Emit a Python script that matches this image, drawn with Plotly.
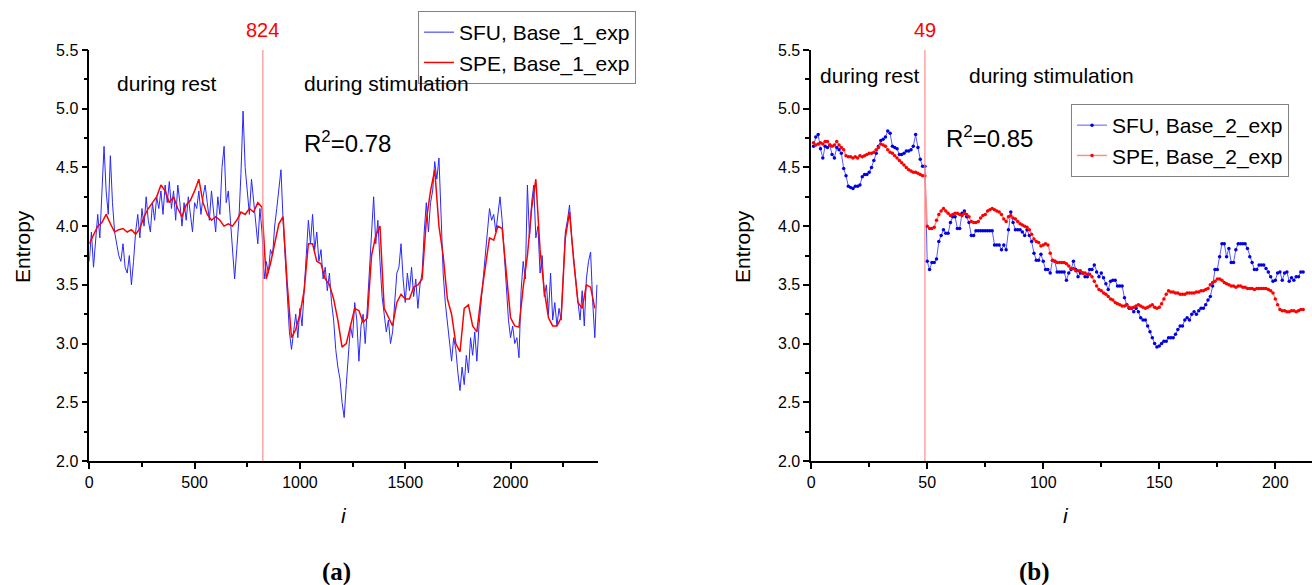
import plotly.graph_objects as go

# ---------------- data: panel (a) ----------------
A_STEP_SFU = 10
a_sfu = [3.70, 3.95, 3.65, 3.85, 4.10, 3.90, 4.30, 4.68, 4.30, 4.10,
         4.60, 4.20, 3.95, 3.85, 3.75, 3.70, 3.85, 3.65, 3.60, 3.75,
         3.50, 3.70, 3.95, 4.10, 3.90, 4.15, 4.00, 4.25, 4.05, 3.95,
         4.20, 4.05, 4.25, 4.15, 4.30, 4.10, 4.35, 4.20, 4.38, 4.15,
         4.30, 4.05, 4.35, 4.20, 4.00, 4.20, 4.05, 4.25, 4.10, 3.95,
         4.20, 4.15, 4.30, 4.10, 4.25, 4.35, 4.20, 4.05, 4.30, 4.15,
         3.95, 4.25, 4.10, 4.50, 4.68, 4.20, 4.30, 4.05, 3.80, 3.55,
         3.80, 4.05, 4.45, 4.98, 4.50, 4.30, 4.10, 4.40, 4.20, 4.00,
         3.85, 4.15, 3.95, 3.55, 3.70, 3.60, 3.80, 3.75, 4.00, 4.15,
         4.30, 4.48, 4.05, 3.70, 3.40, 3.10, 2.95, 3.10, 3.25, 3.05,
         3.30, 3.15, 3.50, 3.75, 4.05, 3.85, 4.10, 3.80, 3.95, 3.70,
         3.80, 3.55, 3.65, 3.45, 3.60, 3.35, 3.20, 2.95, 2.80, 2.70,
         2.50, 2.37, 2.65, 2.95, 3.15, 3.05, 3.35, 3.20, 2.85, 3.15,
         3.25, 3.00, 3.30, 3.55, 3.95, 4.25, 3.85, 4.05, 3.70, 3.40,
         3.25, 3.10, 3.20, 3.00, 3.10, 3.40, 3.60, 3.65, 3.85, 3.55,
         3.35, 3.60, 3.45, 3.65, 3.40, 3.55, 3.30, 3.50, 3.60, 3.95,
         4.20, 3.95, 4.20, 4.30, 4.55, 4.40, 4.58, 4.10, 3.60, 3.35,
         3.20, 3.00, 2.85, 3.05, 2.95, 2.75, 2.60, 2.80, 2.65, 2.90,
         2.75, 3.05, 2.90, 3.10, 2.85, 3.15, 3.35, 3.55, 3.75, 3.90,
         4.15, 4.05, 4.10, 3.95, 4.10, 4.25, 4.05, 3.75, 3.45, 3.20,
         3.05, 3.15, 3.00, 3.05, 2.88, 3.45, 3.70, 3.55, 4.35, 3.90,
         4.20, 4.35, 3.90, 4.00, 3.60, 3.75, 3.40, 3.50, 3.25, 3.60,
         3.20, 3.35, 3.15, 3.30, 3.20, 3.65, 3.95, 4.05, 4.18, 3.90,
         3.70, 3.50, 3.35, 3.20, 3.45, 3.15, 3.55, 3.70, 3.78, 3.35,
         3.05, 3.50]
A_STEP_SPE = 20
a_spe = [3.85, 3.92, 4.00, 4.03, 4.10, 4.02, 3.95, 3.97, 3.98, 3.95,
         3.97, 3.93, 3.98, 4.08, 4.15, 4.20, 4.25, 4.35, 4.30, 4.20,
         4.25, 4.15, 4.08, 4.18, 4.22, 4.30, 4.40, 4.20, 4.10, 4.05,
         4.08, 4.05, 4.00, 4.02, 4.00, 4.05, 4.12, 4.10, 4.15, 4.12,
         4.20, 4.16, 3.55, 3.68, 3.85, 4.02, 4.08, 3.50, 3.05, 3.12,
         3.25, 3.45, 3.85, 3.85, 3.70, 3.68, 3.55, 3.50, 3.38, 3.20,
         2.97, 3.00, 3.15, 3.30, 3.28, 3.18, 3.22, 3.75, 3.92, 4.00,
         3.30, 3.22, 3.15, 3.35, 3.42, 3.38, 3.38, 3.48, 3.50, 3.55,
         4.05, 4.30, 4.48, 4.00, 3.75, 3.38, 3.25, 3.00, 2.93, 3.30,
         3.33, 3.15, 3.10, 3.40, 3.65, 3.90, 3.88, 4.00, 3.98, 3.58,
         3.22, 3.15, 3.14, 3.48, 3.75, 4.15, 4.40, 3.80, 3.45, 3.22,
         3.15, 3.15, 3.22, 3.90, 4.12, 3.70, 3.35, 3.30, 3.50, 3.48,
         3.30]
A_SPLIT = 824
A_XMAX = 2417

# ---------------- data: panel (b) ----------------
B_START = 1
b_sfu = [4.68, 4.76, 4.78, 4.66, 4.58, 4.68, 4.67, 4.69, 4.61, 4.58,
         4.67, 4.65, 4.62, 4.49, 4.43, 4.34, 4.33, 4.32, 4.34, 4.34,
         4.35, 4.42, 4.44, 4.44, 4.46, 4.50, 4.56, 4.62, 4.68, 4.73,
         4.74, 4.76, 4.81, 4.79, 4.68, 4.67, 4.66, 4.61, 4.61, 4.62,
         4.64, 4.64, 4.65, 4.68, 4.78, 4.67, 4.57, 4.51, 4.51, 3.70,
         3.63, 3.69, 3.69, 3.72, 3.87, 3.92, 3.97, 3.94, 3.94, 4.03,
         4.08, 4.08, 3.98, 3.98, 4.11, 4.13, 4.08, 4.03, 3.92, 3.92,
         3.96, 3.96, 3.96, 3.96, 3.96, 3.96, 3.96, 3.96, 3.84, 3.84,
         3.84, 3.80, 3.84, 3.80, 3.97, 4.12, 4.03, 3.97, 3.97, 3.97,
         3.95, 3.92, 3.97, 3.92, 3.87, 3.77, 3.71, 3.71, 3.76, 3.70,
         3.63, 3.63, 3.60, 3.71, 3.70, 3.61, 3.61, 3.61, 3.61, 3.54,
         3.60, 3.63, 3.70, 3.63, 3.57, 3.60, 3.60, 3.57, 3.57, 3.63,
         3.63, 3.67, 3.61, 3.57, 3.60, 3.56, 3.51, 3.46, 3.53, 3.54,
         3.54, 3.49, 3.49, 3.49, 3.39, 3.33, 3.30, 3.30, 3.27, 3.30,
         3.27, 3.22, 3.20, 3.20, 3.15, 3.10, 3.05, 3.00, 2.97, 2.98,
         3.00, 3.02, 3.02, 3.05, 3.05, 3.05, 3.08, 3.12, 3.15, 3.15,
         3.20, 3.22, 3.20, 3.25, 3.27, 3.25, 3.28, 3.30, 3.30, 3.33,
         3.37, 3.40, 3.49, 3.63, 3.63, 3.74, 3.85, 3.85, 3.74, 3.81,
         3.69, 3.69, 3.80, 3.85, 3.85, 3.85, 3.85, 3.81, 3.74, 3.69,
         3.63, 3.63, 3.67, 3.67, 3.67, 3.64, 3.61, 3.57, 3.53, 3.54,
         3.60, 3.61, 3.54, 3.60, 3.61, 3.53, 3.56, 3.54, 3.57, 3.57,
         3.61, 3.61]
b_spe = [4.71, 4.69, 4.70, 4.71, 4.70, 4.72, 4.72, 4.69, 4.68, 4.69,
         4.72, 4.69, 4.67, 4.65, 4.60, 4.59, 4.59, 4.58, 4.59, 4.58,
         4.60, 4.59, 4.60, 4.61, 4.62, 4.62, 4.63, 4.65, 4.67, 4.70,
         4.69, 4.68, 4.65, 4.63, 4.62, 4.60, 4.58, 4.56, 4.54, 4.52,
         4.50, 4.48, 4.47, 4.46, 4.46, 4.45, 4.44, 4.43, 4.43, 4.00,
         3.98, 3.98, 3.99, 4.05, 4.10, 4.13, 4.15, 4.13, 4.11, 4.09,
         4.10, 4.11, 4.11, 4.10, 4.09, 4.11, 4.10, 4.08, 4.04, 4.03,
         4.03, 4.04, 4.07, 4.09, 4.10, 4.13, 4.14, 4.15, 4.14, 4.13,
         4.12, 4.10, 4.06, 4.04, 4.08, 4.09, 4.07, 4.06, 4.04, 4.02,
         4.01, 4.00, 3.99, 3.97, 3.93, 3.89, 3.87, 3.86, 3.83, 3.84,
         3.85, 3.84, 3.77, 3.71, 3.70, 3.69, 3.69, 3.69, 3.69, 3.68,
         3.66, 3.64, 3.64, 3.62, 3.62, 3.62, 3.60, 3.60, 3.59, 3.59,
         3.57, 3.53, 3.49, 3.46, 3.45, 3.43, 3.42, 3.40, 3.38, 3.37,
         3.35, 3.34, 3.33, 3.32, 3.32, 3.33, 3.31, 3.30, 3.31, 3.32,
         3.33, 3.32, 3.31, 3.30, 3.31, 3.32, 3.33, 3.31, 3.30, 3.31,
         3.34, 3.38, 3.42, 3.45, 3.44, 3.44, 3.43, 3.43, 3.42, 3.42,
         3.42, 3.43, 3.43, 3.43, 3.43, 3.44, 3.44, 3.45, 3.45, 3.46,
         3.47, 3.50, 3.52, 3.53, 3.55, 3.55, 3.54, 3.52, 3.51, 3.50,
         3.49, 3.49, 3.48, 3.49, 3.49, 3.48, 3.48, 3.47, 3.47, 3.47,
         3.46, 3.47, 3.47, 3.47, 3.47, 3.47, 3.46, 3.45, 3.43, 3.38,
         3.33, 3.29, 3.28, 3.28, 3.27, 3.27, 3.28, 3.28, 3.27, 3.28,
         3.29, 3.29]
B_SPLIT = 49
B_XMAX = 215.6

x_a_sfu = [k * A_STEP_SFU for k in range(len(a_sfu))]
x_a_spe = [k * A_STEP_SPE for k in range(len(a_spe))]
x_b_sfu = [B_START + k for k in range(len(b_sfu))]
x_b_spe = [B_START + k for k in range(len(b_spe))]

FONT = "Liberation Sans"
W, H = 1312, 585

fig = go.Figure()
fig.add_trace(go.Scatter(x=x_a_sfu, y=a_sfu, mode="lines", name="SFU, Base_1_exp",
                         line=dict(color="rgb(40,40,255)", width=1),
                         xaxis="x", yaxis="y", legend="legend"))
fig.add_trace(go.Scatter(x=x_a_spe, y=a_spe, mode="lines", name="SPE, Base_1_exp",
                         line=dict(color="rgb(255,0,0)", width=1.5),
                         xaxis="x", yaxis="y", legend="legend"))
fig.add_trace(go.Scatter(x=x_b_sfu, y=b_sfu, mode="lines+markers", name="SFU, Base_2_exp",
                         line=dict(color="rgb(90,90,255)", width=1),
                         marker=dict(color="rgb(0,0,230)", size=3.5),
                         xaxis="x2", yaxis="y2", legend="legend2"))
fig.add_trace(go.Scatter(x=x_b_spe, y=b_spe, mode="lines+markers", name="SPE, Base_2_exp",
                         line=dict(color="rgb(255,140,140)", width=1.5),
                         marker=dict(color="rgb(255,0,0)", size=3.5),
                         xaxis="x2", yaxis="y2", legend="legend2"))

def px_x(p):
    return p / W

def px_y(p):
    return (H - p) / H

axis_common = dict(showline=True, linecolor="black", linewidth=1.5, showgrid=False,
                   zeroline=False, ticks="outside", ticklen=6, tickwidth=1.5,
                   tickcolor="black", tickfont=dict(family=FONT, size=16, color="black"),
                   automargin=False)
ydom = [px_y(461), px_y(50)]

fig.update_layout(
    width=W, height=H, autosize=False,
    margin=dict(l=0, r=0, t=0, b=0),
    paper_bgcolor="white", plot_bgcolor="white",
    xaxis=dict(domain=[px_x(89.3), px_x(598.4)], range=[0, A_XMAX], tick0=0, dtick=500,
               anchor="y",
               minor=dict(dtick=250, ticks="outside", ticklen=4, tickwidth=1.5, tickcolor="black"),
               **axis_common),
    yaxis=dict(domain=ydom, range=[2.0, 5.5], tick0=2.0, dtick=0.5, tickformat=".1f",
               anchor="x",
               minor=dict(dtick=0.25, ticks="outside", ticklen=4, tickwidth=1.5, tickcolor="black"),
               **axis_common),
    xaxis2=dict(domain=[px_x(811.2), px_x(1311.5)], range=[0, B_XMAX], tick0=0, dtick=50,
                anchor="y2",
                minor=dict(dtick=25, ticks="outside", ticklen=4, tickwidth=1.5, tickcolor="black"),
                **axis_common),
    yaxis2=dict(domain=ydom, range=[2.0, 5.5], tick0=2.0, dtick=0.5, tickformat=".1f",
                anchor="x2",
                minor=dict(dtick=0.25, ticks="outside", ticklen=4, tickwidth=1.5, tickcolor="black"),
                **axis_common),
    legend=dict(x=px_x(418), y=px_y(11), xanchor="left", yanchor="top",
                bgcolor="white", bordercolor="rgb(130,130,130)", borderwidth=1,
                font=dict(family=FONT, size=21, color="black"), tracegroupgap=0),
    legend2=dict(x=px_x(1071), y=px_y(104), xanchor="left", yanchor="top",
                 bgcolor="white", bordercolor="rgb(130,130,130)", borderwidth=1,
                 font=dict(family=FONT, size=21, color="black"), tracegroupgap=0),
    showlegend=True,
)

split_col = "rgb(255,140,140)"
fig.add_shape(type="line", xref="x", yref="y", x0=A_SPLIT, x1=A_SPLIT, y0=2.0, y1=5.5,
              line=dict(color=split_col, width=1.2))
fig.add_shape(type="line", xref="x2", yref="y2", x0=B_SPLIT, x1=B_SPLIT, y0=2.0, y1=5.5,
              line=dict(color=split_col, width=1.2))

def ann(text, x, y, size=21, xref="paper", color="black", angle=0, family=FONT):
    fig.add_annotation(text=text, x=x, y=y, xref=xref, yref="paper", showarrow=False,
                       xanchor="center", yanchor="middle", textangle=angle,
                       font=dict(family=family, size=size, color=color))

ann(str(A_SPLIT), A_SPLIT, px_y(30), size=20, xref="x", color="red")
ann(str(B_SPLIT), B_SPLIT, px_y(30), size=20, xref="x2", color="red")
ann("during rest", px_x(166), px_y(83))
ann("during stimulation", px_x(386), px_y(83))
ann("R<sup>2</sup>=0.78", px_x(347), px_y(142), size=24)
ann("during rest", px_x(869.5), px_y(75))
ann("during stimulation", px_x(1051.5), px_y(75))
ann("R<sup>2</sup>=0.85", px_x(990), px_y(137), size=24)
ann("Entropy", px_x(22), px_y(247), size=21, angle=-90)
ann("Entropy", px_x(742), px_y(247), size=21, angle=-90)
ann("<i>i</i>", px_x(344), px_y(515), size=21)
ann("<i>i</i>", px_x(1066), px_y(515), size=21)
ann("<b>(a)</b>", px_x(336), px_y(572), size=25, family="Liberation Serif")
ann("<b>(b)</b>", px_x(1034), px_y(572), size=25, family="Liberation Serif")

fig.write_html("out.html", config={"displayModeBar": False})
